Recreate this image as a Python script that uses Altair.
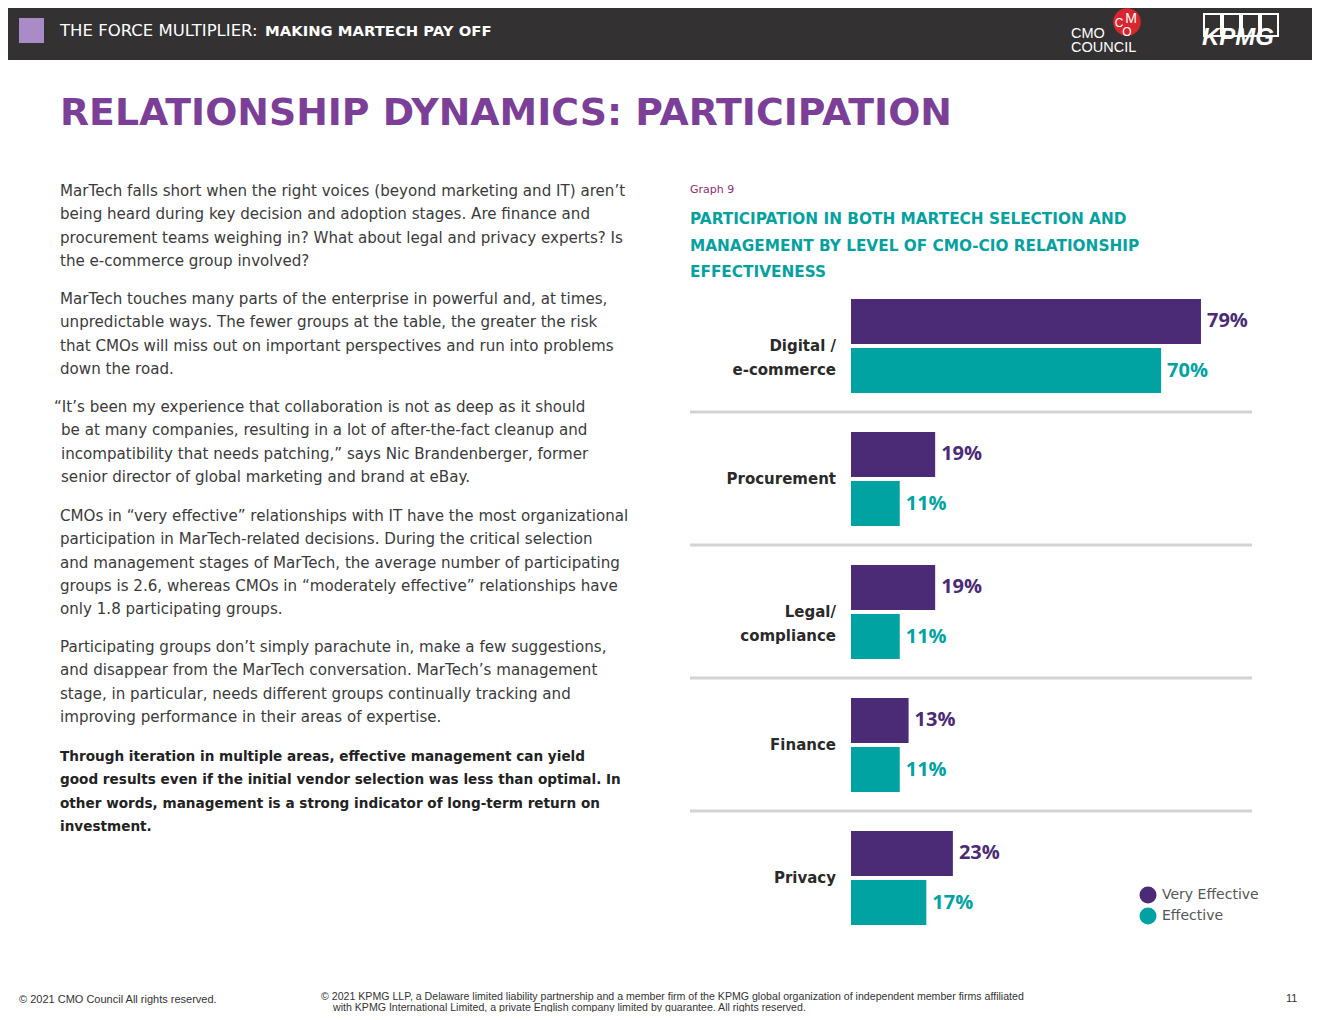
import altair as alt
import pandas as pd

# ---------------- data ----------------
categories = ["Digital /\ne-commerce", "Procurement", "Legal/\ncompliance", "Finance", "Privacy"]
series = ["Very Effective", "Effective"]
very_effective = [79, 19, 19, 13, 23]
effective = [70, 11, 11, 11, 17]
colors = ["#4c2b76", "#00a3a1"]

header_regular = "THE FORCE MULTIPLIER: "
header_bold = "MAKING MARTECH PAY OFF"
page_title = "RELATIONSHIP DYNAMICS: PARTICIPATION"
graph_label = "Graph 9"
chart_title = ["PARTICIPATION IN BOTH MARTECH SELECTION AND",
               "MANAGEMENT BY LEVEL OF CMO-CIO RELATIONSHIP",
               "EFFECTIVENESS"]

para1 = ["MarTech falls short when the right voices (beyond marketing and IT) aren\u2019t",
         "being heard during key decision and adoption stages. Are finance and",
         "procurement teams weighing in? What about legal and privacy experts? Is",
         "the e-commerce group involved?"]
para2 = ["MarTech touches many parts of the enterprise in powerful and, at times,",
         "unpredictable ways. The fewer groups at the table, the greater the risk",
         "that CMOs will miss out on important perspectives and run into problems",
         "down the road."]
para3_first = "\u201cIt\u2019s been my experience that collaboration is not as deep as it should"
para3_rest = ["be at many companies, resulting in a lot of after-the-fact cleanup and",
              "incompatibility that needs patching,\u201d says Nic Brandenberger, former",
              "senior director of global marketing and brand at eBay."]
para4 = ["CMOs in \u201cvery effective\u201d relationships with IT have the most organizational",
         "participation in MarTech-related decisions. During the critical selection",
         "and management stages of MarTech, the average number of participating",
         "groups is 2.6, whereas CMOs in \u201cmoderately effective\u201d relationships have",
         "only 1.8 participating groups."]
para5 = ["Participating groups don\u2019t simply parachute in, make a few suggestions,",
         "and disappear from the MarTech conversation. MarTech\u2019s management",
         "stage, in particular, needs different groups continually tracking and",
         "improving performance in their areas of expertise."]
para6 = ["Through iteration in multiple areas, effective management can yield",
         "good results even if the initial vendor selection was less than optimal. In",
         "other words, management is a strong indicator of long-term return on",
         "investment."]
footer_left = "\u00a9 2021 CMO Council  All rights reserved."
footer_mid = ["\u00a9 2021 KPMG LLP, a Delaware limited liability partnership and a member firm of the KPMG global organization of independent member firms affiliated",
              "with KPMG International Limited, a private English company limited by guarantee. All rights reserved."]
page_number = "11"

# ---------------- helpers ----------------
OX, OY = 8, 8
BODY_FONT = "DejaVu Sans"
dummy = pd.DataFrame({"d": [0]})


def T(text, x, y, size=15, color="#3a3a3a", weight="normal", font=BODY_FONT,
      align="left", baseline="alphabetic", lh=None, style="normal"):
    if isinstance(text, list):
        text = "\n".join(text)
    kw = dict(font=font, fontSize=size, color=color, fontWeight=weight, align=align,
              baseline=baseline, lineBreak="\n", fontStyle=style)
    if lh:
        kw["lineHeight"] = lh
    return alt.Chart(pd.DataFrame({"t": [text]})).mark_text(**kw).encode(
        text="t:N", x=alt.value(x - OX), y=alt.value(y - OY))


def R(x1, y1, x2, y2, fill=None, stroke=None, sw=1):
    kw = {}
    if fill:
        kw["fill"] = fill
    else:
        kw["fillOpacity"] = 0
    if stroke:
        kw["stroke"] = stroke
        kw["strokeWidth"] = sw
    return alt.Chart(dummy).mark_rect(**kw).encode(
        x=alt.value(x1 - OX), x2=alt.value(x2 - OX), y=alt.value(y1 - OY), y2=alt.value(y2 - OY))


def C(x, y, size, color):
    return alt.Chart(dummy).mark_circle(size=size, color=color, opacity=1).encode(
        x=alt.value(x - OX), y=alt.value(y - OY))


layers = []
# header bar
layers.append(R(0, 0, 1320, 60, fill="#333132"))
layers.append(R(19, 18, 44, 43, fill="#a98bc6"))
layers.append(T(header_regular, 60, 36, size=16.5, color="white", font="DejaVu Sans"))
layers.append(T(header_bold, 265, 36, size=14.8, color="white", font="DejaVu Sans", weight="bold"))
# CMO council logo
layers.append(T("CMO", 1071, 38, size=14.5, color="white", font="Liberation Sans"))
layers.append(T("COUNCIL", 1071, 52, size=14.5, color="white", font="Liberation Sans"))
layers.append(C(1127, 22, 760, "#d7262e"))
layers.append(T("M", 1131, 23, size=14, color="white", font="Liberation Sans", align="center"))
layers.append(T("C", 1119, 27, size=12, color="white", font="Liberation Sans", align="center"))
layers.append(T("O", 1127, 36, size=12, color="white", font="Liberation Sans", align="center"))
# KPMG logo
for i in range(4):
    layers.append(R(1204 + i * 19, 14, 1221 + i * 19, 36, stroke="white", sw=2))
layers.append(T("KPMG", 1238, 45, size=24, color="white", font="Liberation Sans",
                weight="bold", style="italic", align="center"))

# page title
layers.append(T(page_title, 60, 125, size=37.8, color="#7b3f98", weight="bold", font="DejaVu Sans"))

# body text
LH = 23.3
BS = 15.1
layers.append(T(para1, 60, 196, size=BS, lh=LH))
layers.append(T(para2, 60, 304, size=BS, lh=LH))
layers.append(T(para3_first, 54, 412, size=BS))
layers.append(T(para3_rest, 61, 412 + LH, size=BS, lh=LH))
layers.append(T(para4, 60, 521, size=BS, lh=LH))
layers.append(T(para5, 60, 652, size=BS, lh=LH))
layers.append(T(para6, 60, 761, size=13.6, lh=LH, weight="bold", color="#222222"))

# chart heading
layers.append(T(graph_label, 690, 193, size=11, color="#8e2d6e"))
layers.append(T(chart_title, 690, 224, size=15.3, color="#05a19f", weight="bold",
                font="DejaVu Sans", lh=26.5))

# ---------------- bar chart ----------------
rows = []
for c, v1, v2 in zip(categories, very_effective, effective):
    rows.append({"cat": c, "series": series[0], "v": v1, "label": f"{v1}%"})
    rows.append({"cat": c, "series": series[1], "v": v2, "label": f"{v2}%"})
bars_df = pd.DataFrame(rows)
cat_df = pd.DataFrame({"cat": categories})
sep_df = pd.DataFrame({"cat": categories[:-1]})

yscale = alt.Scale(domain=categories, range=[299 - OY, 925 - OY], paddingInner=0.293, paddingOuter=0)
xscale = alt.Scale(domain=[0, 100], range=[851 - OX, 1294 - OX])
Y = alt.Y("cat:N", scale=yscale, axis=None)
YO = alt.YOffset("series:N", scale=alt.Scale(domain=series, paddingInner=0.085, paddingOuter=0))
color = alt.Color("series:N", scale=alt.Scale(domain=series, range=colors),
                  legend=alt.Legend(title=None, orient="none", legendX=1139 - OX, legendY=886 - OY,
                                    symbolType="circle", symbolSize=290, symbolStrokeWidth=0,
                                    symbolOpacity=1, labelFont="DejaVu Sans", labelFontSize=14,
                                    labelColor="#555555", labelOffset=5, rowPadding=3))

bars = alt.Chart(bars_df).mark_bar(opacity=1).encode(
    x=alt.X("v:Q", scale=xscale, axis=None), y=Y, yOffset=YO, color=color)
labels = alt.Chart(bars_df).mark_text(align="left", baseline="middle", dx=6, fontSize=20,
                                      fontWeight="bold", font="Open Sans").encode(
    x=alt.X("v:Q", scale=xscale, axis=None), y=Y, yOffset=YO, text="label:N",
    color=alt.Color("series:N", scale=alt.Scale(domain=series, range=colors), legend=None))
cat_labels = alt.Chart(cat_df).mark_text(align="right", baseline="middle", fontSize=15,
                                         font="DejaVu Sans", fontWeight="bold", color="#2a2a2a",
                                         lineBreak="\n", lineHeight=24).encode(
    x=alt.value(836 - OX), y=Y, text="cat:N")
seps = alt.Chart(sep_df).mark_rule(color="#d3d3d3", strokeWidth=3, yOffset=66).encode(
    y=Y, x=alt.value(690 - OX), x2=alt.value(1252 - OX))

layers += [seps, bars, labels, cat_labels]

# footer
layers.append(T(footer_left, 19, 1003, size=11, color="#333333", font="Liberation Sans"))
layers.append(T(footer_mid[0], 321, 1000, size=10.6, color="#333333", font="Liberation Sans"))
layers.append(T(footer_mid[1], 333, 1011, size=10.6, color="#333333", font="Liberation Sans"))
layers.append(T(page_number, 1286, 1002, size=11, color="#333333", font="Liberation Sans"))

chart = alt.layer(*layers).properties(
    width=1304, height=1004, padding=0, autosize="none", background="white"
).configure_view(stroke=None)

chart.save("out.html", embed_options={"renderer": "svg", "actions": False})
